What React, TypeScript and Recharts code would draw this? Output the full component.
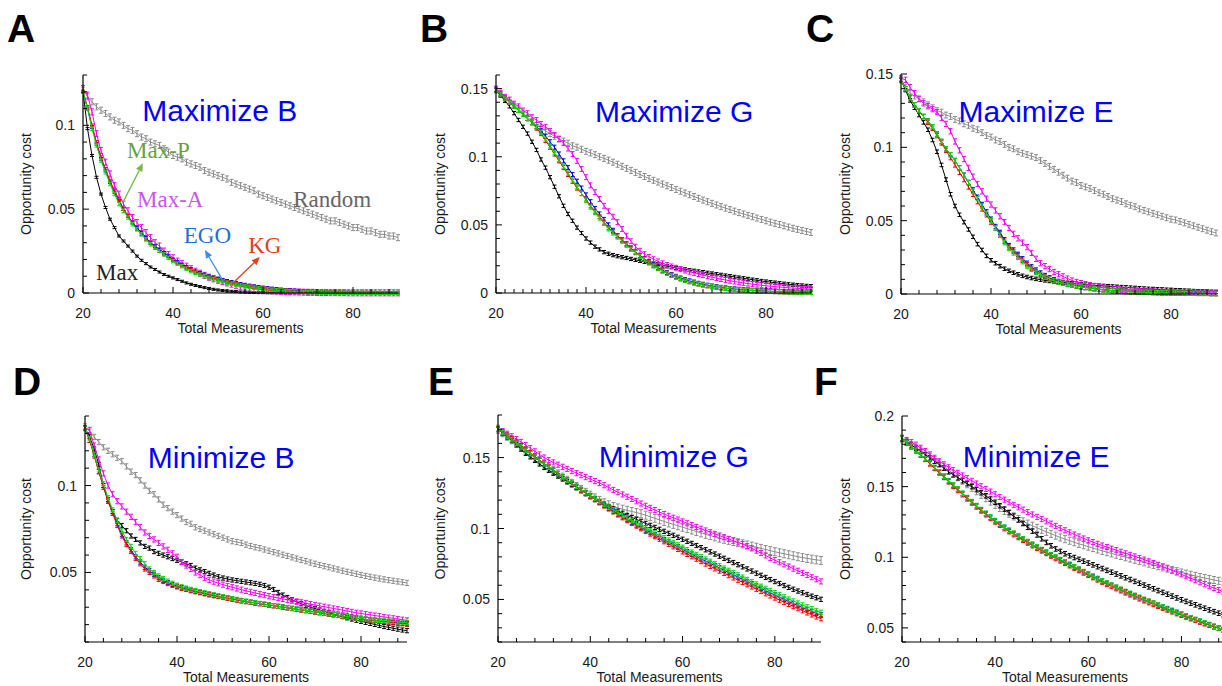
import React from "react";
import { LineChart, Line, XAxis, YAxis, ErrorBar, ReferenceDot, ReferenceLine } from "recharts";

const SANS = "'Liberation Sans', Arial, Helvetica, sans-serif";
const SERIF = "'Liberation Serif', 'Times New Roman', serif";

const MEASUREMENTS = [
  20, 21, 22, 23, 24, 25, 26, 27, 28, 29,
  30, 31, 32, 33, 34, 35, 36, 37, 38, 39,
  40, 41, 42, 43, 44, 45, 46, 47, 48, 49,
  50, 51, 52, 53, 54, 55, 56, 57, 58, 59,
  60, 61, 62, 63, 64, 65, 66, 67, 68, 69,
  70, 71, 72, 73, 74, 75, 76, 77, 78, 79,
  80, 81, 82, 83, 84, 85, 86, 87, 88, 89,
  90,
];

// ---- A: Maximize B
const A_RANDOM = [
  .121, .117, .114, .111, .109, .107, .105, .103, .102, .100,
  .098, .097, .095, .093, .092, .090, .089, .088, .086, .084,
  .082, .081, .080, .078, .077, .076, .075, .073, .072, .071,
  .070, .069, .068, .066, .065, .064, .063, .062, .061, .059,
  .058, .057, .056, .055, .054, .053, .052, .051, .050, .049,
  .048, .047, .046, .045, .044, .043, .043, .042, .041, .040,
  .039, .039, .038, .037, .037, .036, .035, .035, .034, .034,
  .033,
];
const A_MAX = [
  .120, .098, .082, .069, .059, .051, .044, .039, .034, .031,
  .028, .025, .022, .0195, .0175, .0155, .014, .0125, .011, .010,
  .009, .008, .007, .006, .0052, .0045, .0038, .0032, .0027, .0022,
  .0018, .0015, .0012, .001, .0008, .0006, .0005, .0004, .0003, .0002,
  .0002, .0001, .0001, .0001, .0001, .0001, .0001, .0001, .0001, .0001,
  0, 0, 0, 0, 0, 0, 0, 0, 0, 0,
  0, 0, 0, 0, 0, 0, 0, 0, 0, 0,
  0,
];
const A_MAXA = [
  .122, .118, .108, .095, .085, .078, .071, .064, .059, .053,
  .049, .045, .042, .039, .036, .033, .030, .028, .025, .023,
  .021, .019, .0175, .016, .0145, .013, .0118, .0105, .0094, .0085,
  .0076, .0068, .006, .0053, .0046, .004, .0035, .003, .0026, .0022,
  .0019, .0016, .0014, .0012, .001, .0009, .0008, .0007, .0006, .0005,
  .0004, .0004, .0003, .0003, .0003, .0002, .0002, .0002, .0002, .0001,
  .0001, .0001, .0001, .0001, .0001, .0001, .0001, .0001, .0001, .0001,
  .0001,
];
const A_EGO = [
  .120, .110, .099, .089, .080, .073, .066, .060, .055, .050,
  .046, .042, .039, .036, .033, .030, .028, .026, .024, .022,
  .020, .0185, .017, .0155, .0143, .013, .012, .011, .010, .0093,
  .0086, .0079, .0072, .0066, .006, .0055, .005, .0045, .0041, .0037,
  .0033, .003, .0027, .0024, .0021, .0019, .0017, .0015, .0013, .0011,
  .001, .0009, .0008, .0007, .0006, .0005, .0004, .0004, .0003, .0003,
  .0002, .0002, .0002, .0002, .0002, .0001, .0001, .0001, .0001, .0001,
  .0001,
];
const A_KG = [
  .120, .111, .100, .090, .081, .074, .067, .061, .056, .050,
  .046, .042, .038, .035, .032, .030, .027, .025, .023, .021,
  .0195, .018, .0165, .015, .0137, .0125, .0115, .0105, .0096, .0088,
  .008, .0073, .0066, .006, .0055, .005, .0045, .004, .0036, .0032,
  .0029, .0026, .0023, .002, .0018, .0016, .0014, .0012, .0011, .001,
  .0009, .0008, .0007, .0006, .0005, .0005, .0004, .0004, .0003, .0003,
  .0003, .0002, .0002, .0002, .0002, .0002, .0001, .0001, .0001, .0001,
  .0001,
];
const A_MAXP = [
  .120, .110, .098, .088, .079, .072, .065, .059, .053, .049,
  .045, .041, .038, .035, .032, .029, .027, .025, .023, .021,
  .019, .0175, .016, .0145, .013, .012, .011, .010, .009, .0083,
  .0075, .0068, .0061, .0055, .005, .0045, .004, .0036, .0032, .0028,
  .0025, .0022, .0019, .0017, .0015, .0013, .0011, .0009, .0008, .0007,
  .0006, .0005, .0004, .0003, .0003, .0002, .0002, .0002, .0001, .0001,
  .0001, .0001, .0001, .0001, .0001, .0001, .0001, .0001, .0001, .0001,
  .0001,
];
const A_ERR = [0.0018, 0.0006, 0.0018, 0.0008, 0.0008, 0.001];

// ---- B: Maximize G
const B_RANDOM = [
  .149, .146, .143, .141, .138, .135, .132, .129, .126, .123,
  .121, .119, .117, .115, .113, .1115, .110, .108, .107, .1055,
  .104, .1028, .1015, .100, .0988, .0975, .096, .0945, .093, .0915,
  .090, .0885, .087, .0855, .084, .0827, .0814, .080, .0787, .0774,
  .076, .0747, .0734, .0721, .0708, .0695, .0682, .067, .0658, .0646,
  .0634, .0623, .0612, .0601, .059, .058, .057, .056, .055, .054,
  .053, .052, .0511, .0502, .0493, .0484, .0475, .0467, .0459, .0451,
  .0444,
];
const B_MAX = [
  .149, .145, .141, .137, .132, .127, .122, .117, .111, .105,
  .098, .092, .085, .078, .071, .064, .058, .053, .048, .044,
  .040, .037, .034, .032, .030, .0288, .0278, .027, .0263, .0257,
  .025, .0243, .0236, .0229, .0222, .0216, .021, .0203, .0196, .019,
  .0184, .0179, .0174, .0168, .0163, .0158, .0153, .0148, .0143, .0138,
  .0133, .0128, .0123, .0118, .0113, .0108, .0103, .0098, .0093, .0088,
  .0084, .008, .0076, .0072, .0068, .0064, .0061, .0058, .0055, .0052,
  .005,
];
const B_MAXA = [
  .150, .147, .144, .142, .139, .137, .134, .132, .129, .127,
  .124, .122, .119, .116, .113, .110, .106, .102, .097, .091,
  .085, .079, .074, .069, .064, .060, .056, .052, .047, .042,
  .038, .034, .031, .0285, .0265, .0248, .0232, .0218, .0205, .0195,
  .0185, .0175, .0165, .0156, .0147, .0139, .0131, .0123, .0116, .0109,
  .0102, .0096, .009, .0084, .0079, .0074, .0069, .0065, .0061, .0057,
  .0053, .005, .0047, .0044, .0041, .0038, .0036, .0034, .0032, .003,
  .0028,
];
const B_EGO = [
  .149, .146, .143, .140, .137, .134, .131, .128, .125, .122,
  .119, .115, .111, .107, .102, .097, .092, .087, .082, .077,
  .072, .067, .062, .058, .054, .050, .046, .042, .039, .036,
  .033, .030, .0275, .025, .0228, .0206, .0186, .0168, .0151, .0136,
  .0122, .011, .0099, .0089, .008, .0071, .0064, .0057, .0051, .0046,
  .0041, .0037, .0033, .003, .0027, .0024, .0022, .002, .0018, .0016,
  .0014, .0013, .0012, .0011, .001, .0009, .0008, .0007, .0007, .0006,
  .0006,
];
const B_KG = [
  .149, .146, .143, .140, .137, .134, .131, .128, .125, .121,
  .117, .112, .107, .102, .097, .092, .087, .082, .077, .073,
  .069, .064, .060, .056, .052, .048, .045, .042, .039, .036,
  .033, .030, .0275, .025, .0225, .0203, .0182, .0163, .0146, .013,
  .0116, .0104, .0093, .0083, .0074, .0066, .0059, .0053, .0047, .0042,
  .0038, .0034, .003, .0027, .0024, .0021, .0019, .0017, .0015, .0013,
  .0012, .0011, .001, .0009, .0008, .0007, .0006, .0006, .0005, .0005,
  .0004,
];
const B_MAXP = [
  .149, .146, .143, .140, .137, .134, .131, .128, .125, .122,
  .118, .113, .108, .103, .098, .093, .088, .083, .078, .073,
  .068, .063, .059, .055, .051, .047, .044, .041, .038, .035,
  .032, .0295, .027, .0245, .022, .0198, .0178, .016, .0144, .0129,
  .0116, .0104, .0093, .0083, .0074, .0066, .0059, .0053, .0047, .0042,
  .0038, .0034, .003, .0027, .0024, .0021, .0019, .0017, .0015, .0013,
  .0012, .0011, .001, .0009, .0008, .0007, .0006, .0006, .0005, .0005,
  .0004,
];
const B_ERR = [0.0022, 0.0012, 0.0018, 0.0015, 0.0015, 0.0015];

// ---- C: Maximize E
const C_RANDOM = [
  .146, .141, .137, .135, .133, .131, .129, .127, .125, .124,
  .122, .121, .119, .118, .116, .115, .113, .112, .110, .108,
  .107, .105, .104, .102, .100, .099, .097, .096, .095, .094,
  .093, .091, .089, .087, .085, .083, .081, .079, .077, .076,
  .074, .073, .072, .0705, .069, .068, .0665, .065, .064, .063,
  .0615, .0605, .0595, .058, .057, .056, .055, .054, .053, .052,
  .051, .0505, .0495, .0485, .0475, .0465, .0455, .0445, .0435, .0425,
  .0416,
];
const C_MAX = [
  .146, .139, .132, .127, .122, .117, .112, .105, .097, .088,
  .078, .068, .060, .054, .049, .044, .039, .034, .030, .026,
  .023, .021, .019, .0172, .0158, .0145, .0134, .0124, .0116, .0109,
  .0103, .0098, .0093, .0089, .0085, .0082, .0079, .0076, .0073, .007,
  .0067, .0064, .0062, .006, .0057, .0055, .0053, .0051, .0049, .0047,
  .0045, .0043, .0041, .0039, .0037, .0035, .0034, .0032, .0031, .0029,
  .0028, .0026, .0025, .0023, .0022, .002, .0019, .0018, .0017, .0015,
  .0014,
];
const C_MAXA = [
  .147, .146, .141, .137, .133, .130, .128, .126, .124, .120,
  .116, .111, .104, .098, .092, .086, .080, .075, .070, .065,
  .061, .057, .053, .049, .045, .041, .038, .035, .032, .028,
  .024, .021, .019, .017, .015, .0135, .012, .0105, .0092, .0082,
  .0074, .0067, .006, .0054, .0049, .0044, .004, .0036, .0032, .0029,
  .0026, .0024, .0022, .002, .0018, .0017, .0016, .0015, .0014, .0013,
  .0012, .0011, .0011, .001, .001, .0009, .0009, .0008, .0008, .0007,
  .0007,
];
const C_EGO = [
  .146, .140, .134, .129, .125, .121, .118, .114, .109, .104,
  .099, .095, .091, .086, .081, .076, .071, .066, .061, .056,
  .051, .046, .042, .037, .033, .030, .027, .024, .021, .0185,
  .0163, .0143, .0126, .011, .0097, .0086, .0077, .0069, .0062, .0056,
  .005, .0045, .0041, .0037, .0033, .003, .0027, .0024, .0022, .002,
  .0018, .0016, .0015, .0014, .0013, .0012, .0011, .001, .0009, .0009,
  .0008, .0008, .0007, .0007, .0006, .0006, .0005, .0005, .0005, .0004,
  .0004,
];
const C_KG = [
  .146, .140, .134, .129, .125, .121, .117, .113, .108, .103,
  .098, .093, .088, .083, .078, .073, .068, .063, .058, .054,
  .049, .045, .041, .036, .032, .029, .026, .023, .020, .0175,
  .0153, .0134, .0118, .0104, .0092, .0082, .0074, .0066, .006, .0054,
  .0049, .0044, .004, .0036, .0032, .0029, .0026, .0023, .0021, .0019,
  .0017, .0015, .0014, .0013, .0012, .0011, .001, .0009, .0008, .0008,
  .0007, .0007, .0006, .0006, .0005, .0005, .0004, .0004, .0004, .0003,
  .0003,
];
const C_MAXP = [
  .146, .140, .134, .129, .125, .121, .118, .114, .109, .104,
  .099, .095, .091, .086, .081, .076, .070, .065, .060, .055,
  .050, .045, .040, .035, .031, .028, .025, .022, .019, .0168,
  .0148, .013, .0115, .0102, .009, .0081, .0073, .0066, .006, .0054,
  .0049, .0044, .004, .0036, .0032, .0029, .0026, .0023, .0021, .0019,
  .0017, .0015, .0014, .0013, .0012, .0011, .001, .0009, .0008, .0008,
  .0007, .0007, .0006, .0006, .0005, .0005, .0004, .0004, .0004, .0003,
  .0003,
];
const C_ERR = [0.002, 0.0012, 0.0018, 0.0015, 0.0015, 0.0015];

// ---- D: Minimize B
const D_RANDOM = [
  .134, .131, .128, .125, .122, .120, .118, .116, .114, .111,
  .108, .106, .103, .100, .097, .095, .092, .089, .087, .085,
  .083, .081, .079, .078, .076, .075, .074, .073, .072, .071,
  .070, .069, .068, .0675, .067, .066, .0652, .0645, .064, .0632,
  .0625, .0617, .061, .0602, .0595, .0587, .058, .0572, .0565, .0557,
  .055, .0543, .0536, .053, .0523, .0517, .051, .0504, .0498, .0492,
  .0486, .048, .0475, .047, .0465, .046, .0456, .0452, .0448, .0444,
  .044,
];
const D_MAX = [
  .133, .128, .121, .112, .100, .091, .085, .080, .077, .074,
  .071, .069, .067, .065, .064, .062, .061, .060, .059, .058,
  .057, .056, .055, .054, .0525, .0515, .0505, .0495, .0485, .0475,
  .0468, .0462, .0457, .0453, .0449, .0445, .0441, .0437, .0432, .0425,
  .0415, .0402, .0385, .037, .0356, .0343, .0331, .032, .031, .030,
  .0292, .0284, .0276, .0268, .026, .0253, .0246, .0239, .0232, .0225,
  .0219, .0213, .0207, .0201, .0195, .0189, .0184, .0179, .0174, .0169,
  .0165,
];
const D_MAXA = [
  .133, .132, .123, .115, .107, .100, .095, .091, .088, .085,
  .082, .079, .076, .073, .071, .069, .067, .065, .063, .061,
  .059, .056, .054, .052, .050, .0485, .047, .0458, .0447, .0438,
  .043, .0422, .0415, .0408, .0401, .0394, .0388, .0382, .0376, .037,
  .0364, .0358, .0353, .0348, .0343, .0338, .0333, .0328, .0323, .0318,
  .0313, .0308, .0303, .0298, .0293, .0288, .0283, .0278, .0273, .0268,
  .0264, .026, .0256, .0252, .0248, .0244, .024, .0236, .0232, .0228,
  .0224,
];
const D_EGO = [
  .133, .126, .118, .108, .100, .092, .085, .078, .072, .067,
  .063, .059, .056, .053, .051, .049, .047, .0455, .0442, .0431,
  .0421, .0413, .0405, .0398, .0392, .0386, .038, .0374, .0368, .0363,
  .0358, .0353, .0348, .0343, .0338, .0333, .0329, .0325, .0321, .0317,
  .0313, .0309, .0305, .0301, .0297, .0293, .0289, .0285, .0281, .0277,
  .0273, .0269, .0265, .0261, .0257, .0253, .0249, .0245, .0241, .0237,
  .0233, .023, .0227, .0224, .0221, .0218, .0216, .0213, .021, .0207,
  .0205,
];
const D_KG = [
  .133, .126, .117, .108, .099, .091, .084, .077, .071, .066,
  .062, .058, .055, .052, .050, .048, .046, .0448, .0436, .0426,
  .0417, .0409, .0402, .0395, .0389, .0383, .0377, .0371, .0366, .0361,
  .0356, .0351, .0346, .0341, .0336, .0332, .0328, .0324, .032, .0316,
  .0312, .0308, .0304, .030, .0296, .0292, .0288, .0284, .028, .0276,
  .0272, .0268, .0264, .026, .0256, .0252, .0248, .0244, .024, .0236,
  .0232, .0229, .0226, .0223, .022, .0217, .0214, .0211, .0208, .0205,
  .0202,
];
const D_MAXP = [
  .133, .127, .118, .109, .101, .093, .086, .080, .074, .069,
  .065, .061, .058, .055, .052, .050, .048, .0465, .045, .0438,
  .0427, .0418, .041, .0403, .0396, .039, .0384, .0378, .0372, .0366,
  .036, .0355, .035, .0345, .034, .0335, .033, .0326, .0322, .0318,
  .0314, .031, .0306, .0302, .0298, .0294, .029, .0286, .0282, .0278,
  .0274, .027, .0266, .0262, .0258, .0254, .025, .0246, .0242, .0238,
  .0234, .0231, .0228, .0226, .0224, .0222, .022, .0218, .0216, .0214,
  .0212,
];
const D_ERR = [0.0015, 0.0012, 0.0015, 0.0012, 0.0012, 0.0012];

// ---- E: Minimize G
const E_RANDOM = [
  .170, .1675, .165, .1625, .160, .1575, .155, .1525, .150, .1477,
  .1454, .1431, .1408, .1385, .1362, .134, .1318, .1296, .1275, .1255,
  .1235, .1216, .1198, .1181, .1167, .1155, .1145, .1136, .1128, .112,
  .1112, .1104, .1094, .1083, .1072, .1061, .105, .1039, .1029, .1019,
  .1009, .0999, .0989, .0979, .0969, .0959, .095, .0941, .0932, .0924,
  .0916, .0908, .090, .0892, .0884, .0876, .0868, .086, .0852, .0844,
  .0836, .0829, .0822, .0815, .0808, .0801, .0795, .0789, .0784, .0779,
  .0775,
];
const E_MAX = [
  .170, .167, .1645, .162, .159, .156, .153, .1505, .148, .1455,
  .143, .141, .139, .137, .135, .133, .131, .129, .127, .125,
  .123, .121, .119, .1172, .1155, .1138, .1122, .1107, .1092, .1078,
  .1064, .105, .1036, .1022, .1008, .0994, .098, .0966, .0952, .0938,
  .0924, .091, .0895, .088, .0865, .085, .0835, .082, .0805, .079,
  .0775, .076, .0745, .073, .0715, .070, .0685, .067, .0655, .064,
  .0626, .0612, .0598, .0585, .0572, .0559, .0547, .0535, .0523, .0512,
  .0501,
];
const E_MAXA = [
  .170, .1685, .1668, .165, .163, .161, .1588, .1566, .1544, .1522,
  .150, .1482, .1466, .145, .1435, .142, .1405, .139, .1376, .1362,
  .1348, .1334, .132, .1305, .1289, .1272, .1256, .124, .1224, .1208,
  .1192, .1176, .116, .1145, .113, .1116, .1102, .1089, .1076, .1063,
  .105, .1037, .1024, .1011, .0998, .0986, .0974, .0962, .095, .0938,
  .0926, .0914, .0902, .089, .0876, .086, .0844, .0827, .081, .0793,
  .0777, .0762, .0747, .0732, .0717, .0702, .0687, .0672, .0657, .0642,
  .0627,
];
const E_EGO = [
  .170, .1675, .165, .1625, .160, .1575, .155, .1526, .1502, .1478,
  .1454, .1431, .1408, .1385, .1362, .134, .1318, .1296, .1274, .1252,
  .123, .1208, .1186, .1165, .1144, .1123, .1103, .1083, .1064, .1045,
  .1026, .1008, .099, .0972, .0955, .0938, .0921, .0904, .0887, .087,
  .0853, .0836, .0819, .0802, .0786, .077, .0754, .0738, .0722, .0706,
  .069, .0674, .0658, .0642, .0626, .061, .0594, .0578, .0562, .0546,
  .0531, .0516, .0501, .0486, .0471, .0457, .0443, .0429, .0415, .0402,
  .039,
];
const E_KG = [
  .170, .168, .1657, .1633, .1608, .1583, .1558, .1533, .1508, .1483,
  .1459, .1435, .1411, .1387, .1363, .134, .1317, .1294, .1271, .1248,
  .1226, .1204, .1182, .116, .1139, .1118, .1097, .1077, .1057, .1037,
  .1018, .0999, .098, .0962, .0944, .0926, .0908, .089, .0872, .0854,
  .0836, .0819, .0802, .0785, .0768, .0751, .0734, .0717, .0701, .0685,
  .0669, .0653, .0637, .0621, .0605, .0589, .0573, .0557, .0541, .0526,
  .0511, .0496, .0481, .0466, .0451, .0436, .0421, .0406, .0392, .0378,
  .0365,
];
const E_MAXP = [
  .170, .1675, .165, .1625, .160, .1575, .1551, .1527, .1503, .1479,
  .1455, .1432, .1409, .1386, .1363, .1341, .1319, .1297, .1275, .1254,
  .1233, .1212, .1191, .1171, .1151, .1131, .1112, .1093, .1075, .1057,
  .1039, .1021, .1003, .0986, .0969, .0952, .0935, .0918, .0901, .0884,
  .0867, .085, .0833, .0816, .080, .0784, .0768, .0752, .0736, .072,
  .0704, .0688, .0672, .0656, .064, .0624, .0608, .0592, .0577, .0562,
  .0547, .0532, .0517, .0502, .0488, .0474, .046, .0447, .0434, .0421,
  .0409,
];
const E_ERR = [0.0028, 0.0015, 0.0018, 0.0016, 0.0016, 0.0016];

// ---- F: Minimize E
const F_RANDOM = [
  .184, .1815, .1795, .1775, .1755, .1735, .1712, .1688, .1664, .164,
  .1617, .1592, .1567, .1542, .1517, .1492, .1467, .1442, .1418, .1394,
  .1371, .1349, .1328, .1308, .1289, .1271, .1254, .1238, .1223, .1208,
  .1194, .118, .1166, .1153, .114, .1128, .1117, .1106, .1095, .1085,
  .1075, .1065, .1055, .1045, .1036, .1027, .1018, .1009, .100, .0991,
  .0982, .0973, .0964, .0955, .0946, .0937, .0928, .0919, .091, .0901,
  .0892, .0884, .0876, .0868, .086, .0853, .0846, .0839, .0833, .0827,
  .0821,
];
const F_MAX = [
  .184, .1818, .1795, .1772, .1749, .1726, .1703, .168, .1657, .1631,
  .1605, .1584, .1563, .1542, .1521, .150, .1479, .1457, .1435, .1412,
  .1389, .1365, .1341, .1316, .1291, .1265, .1239, .1212, .1185, .1158,
  .1131, .1105, .1081, .1059, .1041, .1025, .1011, .0998, .0985, .0972,
  .0959, .0946, .0933, .092, .0907, .0894, .0881, .0868, .0855, .0842,
  .0829, .0816, .0803, .079, .0777, .0764, .0751, .0738, .0725, .0712,
  .0699, .0687, .0675, .0663, .0651, .0639, .0627, .0615, .0604, .0593,
  .0582,
];
const F_MAXA = [
  .184, .183, .1815, .1797, .1775, .1752, .1728, .1704, .168, .1658,
  .1637, .1617, .1598, .1579, .156, .1541, .1522, .1503, .1484, .1465,
  .1446, .1427, .1408, .1389, .1371, .1354, .1337, .132, .1303, .1286,
  .127, .1254, .1238, .1222, .1206, .1191, .1176, .1161, .1147, .1133,
  .112, .1107, .1095, .1083, .1072, .1061, .105, .1039, .1028, .1017,
  .1006, .0995, .0983, .0971, .0959, .0947, .0934, .0921, .0907, .0893,
  .0879, .0865, .0851, .0837, .0823, .0809, .0795, .0782, .0769, .0756,
  .0744,
];
const F_EGO = [
  .184, .1811, .1783, .1755, .1726, .1696, .1665, .1634, .1603, .1572,
  .1541, .1511, .1481, .1451, .1421, .1392, .1364, .1336, .1309, .1283,
  .1258, .1234, .1211, .1189, .1168, .1148, .1128, .1109, .109, .1071,
  .1053, .1035, .1017, .0999, .0982, .0965, .0948, .0931, .0914, .0897,
  .088, .0864, .0848, .0832, .0816, .0801, .0786, .0771, .0756, .0742,
  .0728, .0714, .070, .0687, .0674, .0661, .0648, .0635, .0622, .0609,
  .0596, .0583, .057, .0558, .0546, .0534, .0522, .051, .0498, .0486,
  .0475,
];
const F_KG = [
  .184, .1811, .1783, .1754, .1724, .1693, .1661, .1629, .1597, .1565,
  .1534, .1503, .1473, .1443, .1413, .1384, .1356, .1328, .1301, .1275,
  .125, .1226, .1203, .1181, .116, .114, .112, .1101, .1082, .1063,
  .1045, .1027, .1009, .0991, .0974, .0957, .094, .0923, .0906, .0889,
  .0872, .0856, .084, .0824, .0808, .0793, .0778, .0763, .0748, .0734,
  .072, .0706, .0692, .0679, .0666, .0653, .064, .0627, .0614, .0601,
  .0589, .0577, .0565, .0553, .0541, .0529, .0518, .0507, .0496, .0485,
  .0474,
];
const F_MAXP = [
  .184, .1812, .1785, .1757, .1728, .1698, .1667, .1636, .1605, .1574,
  .1543, .1513, .1483, .1453, .1423, .1394, .1366, .1338, .1311, .1285,
  .126, .1236, .1213, .1191, .117, .115, .113, .1111, .1092, .1073,
  .1055, .1037, .1019, .1001, .0984, .0967, .095, .0933, .0916, .0899,
  .0882, .0866, .085, .0834, .0818, .0803, .0788, .0773, .0758, .0744,
  .073, .0716, .0702, .0689, .0676, .0663, .065, .0637, .0624, .0611,
  .0598, .0585, .0572, .056, .0548, .0536, .0524, .0512, .050, .0489,
  .0478,
];
const F_ERR = [0.0025, 0.0016, 0.0018, 0.0016, 0.0016, 0.0016];

// drawing order: Random, Max, Max-A, EGO, KG, Max-P
const SERIES = [
  { key: "random", color: "#8c8c8c" },
  { key: "max", color: "#000000" },
  { key: "maxA", color: "#ff00ff" },
  { key: "ego", color: "#0000ff" },
  { key: "kg", color: "#ff0000" },
  { key: "maxP", color: "#00e000" },
];

// annotations of panel A (data coordinates)
const A_NOTES = [
  { text: "Max-P", x: 29.8, y: 0.0804, color: "#6aa03c" },
  { text: "Max-A", x: 32.0, y: 0.0512, color: "#cc55ee" },
  { text: "Random", x: 66.7, y: 0.0512, color: "#666666" },
  { text: "EGO", x: 42.4, y: 0.0298, color: "#1f6fd6" },
  { text: "KG", x: 56.7, y: 0.0238, color: "#e2401f" },
  { text: "Max", x: 22.9, y: 0.0077, color: "#222222" },
];
const A_ARROWS = [
  { x1: 28.9, y1: 0.0542, x2: 33.3, y2: 0.0774, color: "#78b843" },
  { x1: 50.9, y1: 0.0083, x2: 47.1, y2: 0.0256, color: "#3a8ee8" },
  { x1: 53.1, y1: 0.0054, x2: 59.3, y2: 0.0214, color: "#e2401f" },
];

const PANELS = [
  { letter: "A", lx: 7, ly: 42, title: "Maximize B", tx: 50.4, ty: 0.1024, left: 83, top: 75, right: 398, bottom: 293, yW: 114, yDomain: [0, 0.13], yMajor: [0, 0.05, 0.1], xStep: 4, values: [A_RANDOM, A_MAX, A_MAXA, A_EGO, A_KG, A_MAXP], err: A_ERR, notes: A_NOTES, arrows: A_ARROWS },
  { letter: "B", lx: 420, ly: 42, title: "Maximize G", tx: 59.6, ty: 0.1257, left: 496, top: 75, right: 811, bottom: 293, yW: 112, yDomain: [0, 0.16], yMajor: [0, 0.05, 0.1, 0.15], xStep: 2, values: [B_RANDOM, B_MAX, B_MAXA, B_EGO, B_KG, B_MAXP], err: B_ERR, notes: [], arrows: [] },
  { letter: "C", lx: 806, ly: 42, title: "Maximize E", tx: 50, ty: 0.1173, left: 901, top: 74, right: 1216, bottom: 294, yW: 112, yDomain: [0, 0.15], yMajor: [0, 0.05, 0.1, 0.15], xStep: 4, values: [C_RANDOM, C_MAX, C_MAXA, C_EGO, C_KG, C_MAXP], err: C_ERR, notes: [], arrows: [] },
  { letter: "D", lx: 13, ly: 395, title: "Minimize B", tx: 49.6, ty: 0.1103, left: 85, top: 416, right: 407, bottom: 642, yW: 118, yDomain: [0.01, 0.14], yMajor: [0.05, 0.1], xStep: 4, values: [D_RANDOM, D_MAX, D_MAXA, D_EGO, D_KG, D_MAXP], err: D_ERR, notes: [], arrows: [] },
  { letter: "E", lx: 428, ly: 395, title: "Minimize G", tx: 58.1, ty: 0.1437, left: 498, top: 415, right: 821, bottom: 642, yW: 116, yDomain: [0.02, 0.18], yMajor: [0.05, 0.1, 0.15], xStep: 4, values: [E_RANDOM, E_MAX, E_MAXA, E_EGO, E_KG, E_MAXP], err: E_ERR, notes: [], arrows: [] },
  { letter: "F", lx: 814, ly: 395, title: "Minimize E", tx: 48.8, ty: 0.1637, left: 902, top: 416, right: 1228, bottom: 642, yW: 114, yDomain: [0.04, 0.2], yMajor: [0.05, 0.1, 0.15, 0.2], xStep: 4, values: [F_RANDOM, F_MAX, F_MAXA, F_EGO, F_KG, F_MAXP], err: F_ERR, notes: [], arrows: [] },
];

const TOP_PAD = 14;

function XTick(props: any) {
  const { x, y, payload } = props;
  const major = payload.value % 20 === 0;
  return (
    <g>
      <line x1={x} x2={x} y1={y} y2={y - (major ? 6 : 4)} stroke="#000" strokeWidth={1} />
      {major && (
        <text x={x} y={y + 25} textAnchor="middle" fontSize={14} fontFamily={SANS} fill="#1a1a1a">
          {payload.value}
        </text>
      )}
    </g>
  );
}

function makeYTick(majors: number[]) {
  return (props: any) => {
    const { x, y, payload } = props;
    const major = majors.some((m) => Math.abs(m - payload.value) < 1e-9);
    return (
      <g>
        <line x1={x} x2={x + (major ? 6 : 4)} y1={y} y2={y} stroke="#000" strokeWidth={1} />
        {major && (
          <text x={x - 8} y={y + 5} textAnchor="end" fontSize={14} fontFamily={SANS} fill="#1a1a1a">
            {String(payload.value)}
          </text>
        )}
      </g>
    );
  };
}

function arrowShape(color: string) {
  return (sp: any) => {
    const { x1, y1, x2, y2 } = sp;
    const a = Math.atan2(y2 - y1, x2 - x1);
    const L = 8;
    const W = 3.5;
    const bx = x2 - L * Math.cos(a);
    const by = y2 - L * Math.sin(a);
    const pts = `${x2},${y2} ${bx + W * Math.sin(a)},${by - W * Math.cos(a)} ${bx - W * Math.sin(a)},${by + W * Math.cos(a)}`;
    return (
      <g>
        <line x1={x1} y1={y1} x2={bx} y2={by} stroke={color} strokeWidth={1.3} />
        <polygon points={pts} fill={color} />
      </g>
    );
  };
}

function Panel({ p }: { p: (typeof PANELS)[number] }) {
  const w = p.right - p.left;
  const h = p.bottom - p.top;
  const rows = MEASUREMENTS.map((m, i) => {
    const row: Record<string, number> = { m };
    SERIES.forEach((s, j) => {
      row[s.key] = p.values[j][i];
      row[s.key + "Err"] = p.err[j];
    });
    return row;
  });
  const xTicks: number[] = [];
  for (let v = 20; v <= 90; v += p.xStep) xTicks.push(v);
  const yTicks: number[] = [];
  for (let k = Math.round(p.yDomain[0] * 100); k <= Math.round(p.yDomain[1] * 100); k++) yTicks.push(k / 100);

  return (
    <div style={{ position: "absolute", left: p.left - p.yW, top: p.top - TOP_PAD }}>
      <LineChart width={p.yW + w + 4} height={h + TOP_PAD + 40 + 10} data={rows} margin={{ top: TOP_PAD, right: 4, bottom: 10, left: 0 }}>
        <XAxis
          dataKey="m"
          type="number"
          domain={[20, 90]}
          allowDataOverflow
          ticks={xTicks}
          interval={0}
          tickSize={0}
          tickMargin={0}
          tickLine={false}
          tick={XTick}
          axisLine={{ stroke: "#000", strokeWidth: 1.2 }}
          height={40}
          label={{ value: "Total Measurements", position: "insideBottom", offset: 0, fill: "#1a1a1a", fontSize: 14, fontFamily: SANS }}
        />
        <YAxis
          type="number"
          domain={p.yDomain}
          allowDataOverflow
          ticks={yTicks}
          interval={0}
          tickSize={0}
          tickMargin={0}
          tickLine={false}
          tick={makeYTick(p.yMajor)}
          axisLine={{ stroke: "#000", strokeWidth: 1.2 }}
          width={p.yW}
          label={{ value: "Opportunity cost", angle: -90, position: "center", fill: "#1a1a1a", fontSize: 14, fontFamily: SANS }}
        />
        {SERIES.map((s) => (
          <Line
            key={s.key}
            dataKey={s.key}
            stroke={s.color}
            strokeWidth={1}
            dot={false}
            activeDot={false}
            isAnimationActive={false}
          >
            <ErrorBar dataKey={s.key + "Err"} width={2} stroke={s.color} strokeWidth={1} direction="y" isAnimationActive={false} />
          </Line>
        ))}
        <ReferenceDot
          x={p.tx}
          y={p.ty}
          r={0}
          ifOverflow="visible"
          shape={(sp: any) => (
            <text x={sp.cx} y={sp.cy} textAnchor="middle" fontSize={30} fontFamily={SANS} fill="#0000ff">
              {p.title}
            </text>
          )}
        />
        {p.arrows.map((a, i) => (
          <ReferenceLine
            key={"ar" + i}
            segment={[{ x: a.x1, y: a.y1 }, { x: a.x2, y: a.y2 }]}
            ifOverflow="visible"
            shape={arrowShape(a.color)}
          />
        ))}
        {p.notes.map((n) => (
          <ReferenceDot
            key={n.text}
            x={n.x}
            y={n.y}
            r={0}
            ifOverflow="visible"
            shape={(sp: any) => (
              <text x={sp.cx} y={sp.cy} textAnchor="start" fontSize={23} fontFamily={SERIF} fill={n.color}>
                {n.text}
              </text>
            )}
          />
        ))}
      </LineChart>
    </div>
  );
}

export default function App() {
  return (
    <div style={{ position: "absolute", left: 0, top: 0, width: 1222, height: 686, overflow: "hidden", background: "#fff" }}>
      {PANELS.map((p) => (
        <Panel key={p.letter} p={p} />
      ))}
      <svg width={1222} height={686} style={{ position: "absolute", left: 0, top: 0, pointerEvents: "none" }}>
        {PANELS.map((p) => (
          <text key={p.letter} x={p.lx} y={p.ly} fontSize={39} fontWeight="bold" fontFamily={SANS} fill="#000">
            {p.letter}
          </text>
        ))}
      </svg>
    </div>
  );
}
